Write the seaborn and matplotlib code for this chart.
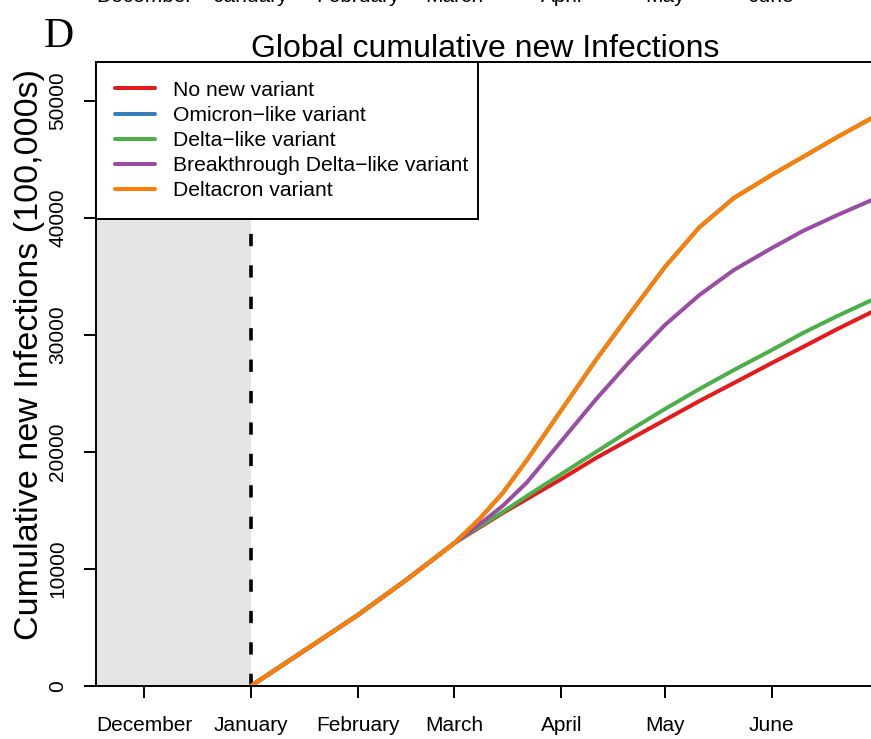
import numpy as np
import pandas as pd
import matplotlib
matplotlib.use("Agg")
import matplotlib.pyplot as plt
import matplotlib.transforms as mtransforms
import seaborn as sns

# days since 1 January
days = [0, 14, 31, 45, 59, 66, 73, 80, 90, 100, 110, 120, 130, 140, 151, 160, 170, 180]

no_new = [0, 2735, 6068, 9060, 12222, 13504, 14786, 15983, 17692, 19487, 21111,
          22735, 24359, 25897, 27607, 28974, 30513, 31966]
omicron = [0, 2735, 6068, 9060, 12222, 14200, 16500, 19316, 23590, 27863, 31880,
           35812, 39212, 41712, 43692, 45214, 46923, 48547]
delta = [0, 2735, 6068, 9060, 12222, 13590, 14872, 16239, 18120, 20000, 21880,
         23675, 25385, 27009, 28718, 30171, 31624, 32991]
breakthrough = [0, 2735, 6068, 9060, 12222, 13761, 15400, 17400, 20940, 24500, 27800,
                30855, 33419, 35556, 37436, 38889, 40256, 41538]
deltacron = [0, 2735, 6068, 9060, 12222, 14200, 16500, 19316, 23590, 27863, 31880,
             35812, 39212, 41712, 43692, 45214, 46923, 48547]

scenarios = ["No new variant", "Omicron\u2212like variant", "Delta\u2212like variant",
             "Breakthrough Delta\u2212like variant", "Deltacron variant"]
colors = ["#E41A1C", "#377EB8", "#4DAF4A", "#984EA3", "#FF7F00"]

month_days = [-31, 0, 31, 59, 90, 120, 151]
month_labels = ["December", "January", "February", "March", "April", "May", "June"]

series = [no_new, omicron, delta, breakthrough, deltacron]
df = pd.concat([pd.DataFrame({"day": days, "value": s, "scenario": name})
                for name, s in zip(scenarios, series)], ignore_index=True)

sns.set_style("ticks")
plt.rcParams["font.family"] = ["Liberation Sans", "DejaVu Sans"]
plt.rcParams["text.color"] = "black"
plt.rcParams["axes.labelcolor"] = "black"
plt.rcParams["xtick.color"] = "black"
plt.rcParams["ytick.color"] = "black"

fig = plt.figure(figsize=(8.71, 7.39), dpi=100)
W, H = 871, 739
ax = fig.add_axes([96 / W, (H - 686) / H, (874 - 96) / W, (686 - 62) / H])

ax.axvspan(-45, 0, color="#E5E5E5", lw=0, zorder=0)
ax.axvline(0, color="black", lw=2.6, ls=(0, (3.4, 5.3)), zorder=1)

sns.lineplot(data=df, x="day", y="value", hue="scenario", hue_order=scenarios,
             palette=dict(zip(scenarios, colors)), linewidth=2.9, sort=False,
             ax=ax, zorder=2)

ax.set_xlim(-44.9, 180.6)
ax.set_ylim(0, 53333)
ax.set_xticks(month_days)
ax.set_xticklabels(month_labels)
ax.set_yticks(np.arange(0, 50001, 10000))
ax.set_xlabel("")
ax.set_ylabel("")
for lab in ax.get_yticklabels():
    lab.set_rotation(90)
    lab.set_va("center")
ax.tick_params(axis="x", labelsize=15, length=8.6, width=1.4, pad=13, color="black")
ax.tick_params(axis="y", labelsize=15, length=8.6, width=1.4, pad=12, color="black")
for side in ["left", "bottom", "top"]:
    ax.spines[side].set_visible(True)
    ax.spines[side].set_color("black")
    ax.spines[side].set_linewidth(1.4)
ax.spines["right"].set_visible(False)

handles, labels = ax.get_legend_handles_labels()
leg = ax.legend(handles, labels, loc="upper left", bbox_to_anchor=(0, 1, (478 - 96) / (874 - 96), 0),
                mode="expand", fontsize=15.2, frameon=True, fancybox=False,
                borderaxespad=0, borderpad=0.89, handlelength=1.9, handletextpad=0.85,
                labelspacing=0.29)
leg.get_frame().set_edgecolor("black")
leg.get_frame().set_linewidth(1.4)
leg.get_frame().set_alpha(1)
for h in leg.get_lines():
    h.set_linewidth(2.9)

fig.text(485 / W, 1 - 57 / H, "Global cumulative new Infections", ha="center",
         va="baseline", fontsize=23)
fig.text(30 / W, 1 - 354 / H, "Cumulative new Infections (100,000s)", rotation=90,
         ha="center", va="center", fontsize=24.6)
fig.text(44 / W, 1 - 47 / H, "D", family="Liberation Serif", fontsize=30, va="baseline")

# labels of the panel above, cut off at the top edge
trans = mtransforms.blended_transform_factory(ax.transData, fig.transFigure)
for d, lab in zip(month_days, month_labels):
    ax.text(d, 1 - 2.5 / H, lab, transform=trans, ha="center", va="baseline",
            fontsize=15, clip_on=False)

fig.savefig("out.png", dpi=100)
